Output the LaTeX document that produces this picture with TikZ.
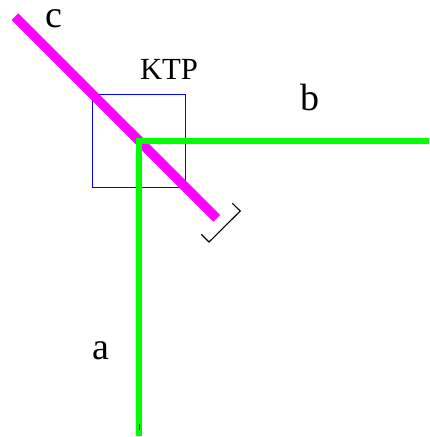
\documentclass[tikz,border=0pt]{standalone}
\usepackage{fontspec}
\setmainfont{Liberation Serif}
\definecolor{beamgreen}{RGB}{0,255,0}
\definecolor{beammagenta}{RGB}{255,0,255}
\definecolor{boxblue}{RGB}{0,0,255}
\tikzset{
  greenbeam/.style={draw=beamgreen,line width=6pt,line join=miter},
  magentabeam/.style={draw=beammagenta,line width=9.4pt},
  crystal/.style={draw=boxblue,line width=1.2pt},
  mount/.style={draw=black,line width=1.1pt},
  biglabel/.style={font=\fontsize{38}{38}\selectfont,inner sep=0pt,anchor=base},
  smalllabel/.style={font=\fontsize{30.7}{31}\selectfont,inner sep=0pt,anchor=base}
}
\begin{document}
\begin{tikzpicture}[x=1pt,y=-1pt]
\useasboundingbox (0,0) rectangle (429,437);
\coordinate (cA) at (92.7,94.5);
\coordinate (cB) at (185.7,187.5);
\draw[crystal] (cA) rectangle (cB);
\coordinate (mS) at (15,16.7);
\coordinate (mE) at (216.7,218.3);
\draw[magentabeam] (mS) -- (mE);
\coordinate (gA) at (139.2,436);
\coordinate (gC) at (139.2,141);
\coordinate (gB) at (429,141);
\draw[greenbeam] (gA) -- (gC) -- (gB);
\coordinate (t1) at (139.5,424);
\coordinate (t2) at (139.5,430);
\draw[draw=black,line width=.8pt] (t1) -- (t2);
\coordinate (b1) at (232.3,203.3);
\coordinate (b2) at (240.3,211);
\coordinate (b3) at (209,242);
\coordinate (b4) at (201.3,234.3);
\draw[mount] (b1) -- (b2) -- (b3) -- (b4);
\node[smalllabel] (ktp) at (169,79) {KTP};
\node[biglabel] (a) at (100.5,359) {a};
\node[biglabel] (b) at (310,110.5) {b};
\node[biglabel] (c) at (53.5,27.5) {c};
\end{tikzpicture}
\end{document}
